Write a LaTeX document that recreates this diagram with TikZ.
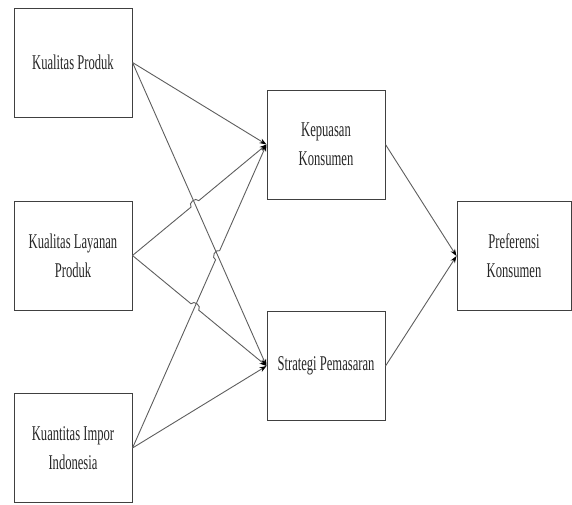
\documentclass[tikz,border=0pt]{standalone}
\usepackage{fontspec}
\newfontfamily\condserif[FakeStretch=0.6]{Liberation Serif}
\usetikzlibrary{arrows.meta,calc}
\definecolor{boxline}{HTML}{404040}
\definecolor{conline}{HTML}{5E5E5E}
\definecolor{txt}{HTML}{262626}
\begin{document}
\begin{tikzpicture}[x=1pt,y=-1pt,
  box/.style={draw=boxline,line width=1pt,minimum width=118pt,minimum height=109pt,
    inner sep=0pt,align=center,text=txt,
    font=\condserif\fontsize{21}{29}\selectfont},
  con/.style={draw=conline,line width=0.9pt,
    -{Stealth[length=7pt,width=5pt,color=black,fill=black]}},
  hop/.style={bend left=90,looseness=1.3}]
\useasboundingbox (0,0) rectangle (572,504);
\node[box] (kp) at (73,62.5) {Kualitas Produk};
\node[box] (kl) at (73,255.5) {Kualitas Layanan\\Produk};
\node[box] (ki) at (73,448) {Kuantitas Impor\\Indonesia};
\node[box] (ks) at (326,144.5) {Kepuasan\\Konsumen};
\node[box] (sp) at (326,366) {Strategi Pemasaran};
\node[box,minimum width=114pt] (pk) at (514,256) {Preferensi\\Konsumen};
\coordinate (kpE) at (kp.east);
\coordinate (klE) at (kl.east);
\coordinate (kiE) at (ki.east);
\coordinate (ksW) at (ks.west);
\coordinate (spW) at (sp.west);
\coordinate (X1) at (intersection of kpE--spW and klE--ksW);
\coordinate (X2) at (intersection of kpE--spW and kiE--ksW);
\coordinate (X3) at (intersection of klE--spW and kiE--ksW);
% straight connectors
\draw[con] (kpE) -- (ksW);
\draw[con] (kpE) -- (spW);
\draw[con] (kiE) -- (spW);
% connectors with hops
\draw[con] (klE) -- ($(X1)!5pt!(klE)$) to[hop] ($(X1)!5pt!(ksW)$) -- (ksW);
\draw[con] (kiE) -- ($(X2)!5pt!(kiE)$) to[hop] ($(X2)!5pt!(ksW)$) -- (ksW);
\draw[con] (klE) -- ($(X3)!5pt!(klE)$) to[hop] ($(X3)!5pt!(spW)$) -- (spW);
% to Preferensi
\draw[con] (ks.east) -- (pk.west);
\draw[con] (sp.east) -- (pk.west);
\end{tikzpicture}
\end{document}
